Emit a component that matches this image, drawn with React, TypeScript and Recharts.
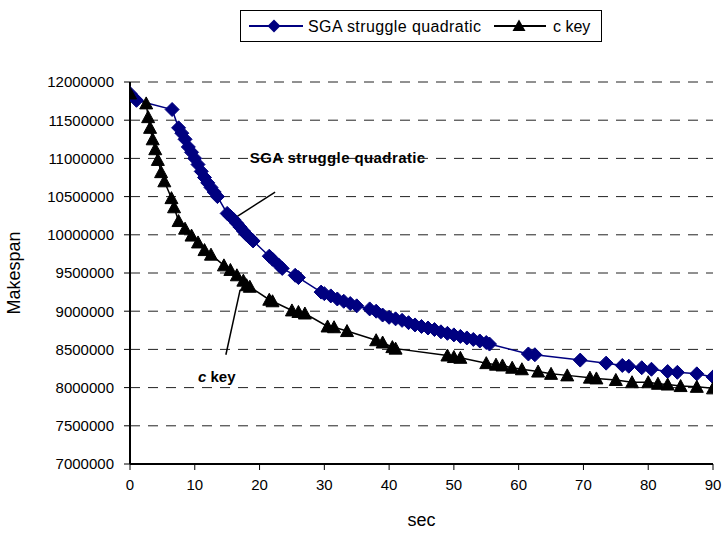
import React from "react";
import {
  LineChart,
  Line,
  XAxis,
  YAxis,
  CartesianGrid,
  ReferenceLine,
  ReferenceDot,
} from "recharts";

// SGA struggle quadratic
const sgaSec = [
  0, 1, 6.5, 7.5, 8, 8.5, 9, 9.5, 10, 10.5, 11, 11.5, 12, 12.5, 13, 13.5, 15,
  15.5, 16, 16.5, 17, 17.5, 18, 18.5, 19, 21.5, 22, 23, 23.5, 25.5, 26, 29.5,
  30, 31, 32, 33, 34, 35, 37, 38, 39, 40, 41, 42, 43, 44, 45, 46, 47, 48, 49,
  50, 51, 52, 53, 54, 55, 55.5, 61.5, 62.5, 69.5, 73.5, 76, 77, 79, 80.5, 83,
  84.5, 87.5, 90,
];
const sgaMakespan = [
  11850000, 11760000, 11640000, 11400000, 11330000, 11250000, 11150000,
  11080000, 11000000, 10920000, 10830000, 10750000, 10680000, 10620000,
  10560000, 10500000, 10280000, 10240000, 10200000, 10150000, 10100000,
  10050000, 10000000, 9960000, 9920000, 9720000, 9680000, 9600000, 9560000,
  9470000, 9440000, 9250000, 9230000, 9200000, 9160000, 9130000, 9100000,
  9070000, 9030000, 9000000, 8950000, 8920000, 8900000, 8880000, 8850000,
  8820000, 8800000, 8780000, 8760000, 8730000, 8710000, 8690000, 8670000,
  8650000, 8630000, 8610000, 8590000, 8570000, 8440000, 8430000, 8360000,
  8320000, 8290000, 8280000, 8260000, 8240000, 8210000, 8200000, 8180000,
  8140000,
];

// c key
const ckeySec = [
  0, 2.5, 2.8, 3.1, 3.5, 3.9, 4.3, 4.8, 5.3, 6.4, 6.8, 7.5, 8.5, 9.5, 10.5,
  11.5, 12.5, 14.5, 15.5, 16.5, 17.5, 18, 18.5, 21.5, 22, 25, 26, 27, 30.5,
  31.5, 33.5, 38, 39, 40.5, 41, 49, 50, 51, 55, 56.5, 57.5, 59, 60.5, 63, 65,
  67.5, 71, 72, 75, 77.5, 80, 81.5, 83, 85, 87.5, 90,
];
const ckeyMakespan = [
  11850000, 11720000, 11540000, 11400000, 11250000, 11120000, 10980000,
  10820000, 10700000, 10480000, 10360000, 10180000, 10080000, 9990000,
  9900000, 9800000, 9740000, 9600000, 9540000, 9470000, 9400000, 9340000,
  9320000, 9150000, 9130000, 9010000, 8990000, 8970000, 8800000, 8790000,
  8740000, 8620000, 8590000, 8530000, 8510000, 8420000, 8400000, 8390000,
  8320000, 8300000, 8290000, 8260000, 8240000, 8210000, 8180000, 8160000,
  8130000, 8120000, 8100000, 8070000, 8070000, 8050000, 8040000, 8020000,
  8010000, 7990000,
];

const xTicks = [0, 10, 20, 30, 40, 50, 60, 70, 80, 90];
const yTicks = [
  7000000, 7500000, 8000000, 8500000, 9000000, 9500000, 10000000, 10500000,
  11000000, 11500000, 12000000,
];

const sgaData = sgaSec.map((s, i) => ({ sec: s, makespan: sgaMakespan[i] }));
const ckeyData = ckeySec.map((s, i) => ({ sec: s, makespan: ckeyMakespan[i] }));

const NAVY = "#000080";
const FONT = "'Liberation Sans', Arial, sans-serif";

const Diamond = (props: any) => {
  const { cx, cy, index } = props;
  if (cx == null || cy == null) return <g key={index} />;
  const r = 7;
  return (
    <polygon
      key={"d" + index}
      points={`${cx},${cy - r} ${cx + r},${cy} ${cx},${cy + r} ${cx - r},${cy}`}
      fill={NAVY}
      stroke={NAVY}
    />
  );
};

const Triangle = (props: any) => {
  const { cx, cy, index } = props;
  if (cx == null || cy == null) return <g key={index} />;
  return (
    <polygon
      key={"t" + index}
      points={`${cx},${cy - 6.5} ${cx + 6.5},${cy + 5.5} ${cx - 6.5},${cy + 5.5}`}
      fill="#000"
      stroke="#000"
    />
  );
};

const LegendBox = () => (
  <div
    style={{
      position: "absolute",
      left: 240,
      top: 10,
      width: 362,
      height: 32,
      border: "1px solid #000",
      boxSizing: "border-box",
    }}
  >
    <svg width={362} height={32} style={{ position: "absolute", left: 0, top: 0 }}>
      <line x1={8} y1={15} x2={62} y2={15} stroke={NAVY} strokeWidth={2} />
      <polygon points="33,8.5 39.5,15 33,21.5 26.5,15" fill={NAVY} />
      <text x={67} y={21} fontSize={16} letterSpacing={0.4} fontFamily={FONT} fill="#000">
        SGA struggle quadratic
      </text>
      <line x1={253} y1={15} x2={305} y2={15} stroke="#000" strokeWidth={2} />
      <polygon points="278,8.5 284.5,20 271.5,20" fill="#000" />
      <text x={312} y={21} fontSize={16} fontFamily={FONT} fill="#000">
        c key
      </text>
    </svg>
  </div>
);

const App: React.FC = () => {
  return (
    <div style={{ position: "absolute", left: 0, top: 0, width: 723, height: 533, background: "#fff" }}>
      <LineChart
        width={723}
        height={533}
        margin={{ top: 82, right: 10, bottom: 3, left: 0 }}
        style={{ fontFamily: FONT }}
      >
        <CartesianGrid
          horizontal={true}
          vertical={false}
          stroke="#222"
          strokeDasharray="10 8"
          horizontalValues={yTicks}
        />
        <XAxis
          dataKey="sec"
          type="number"
          domain={[0, 90]}
          ticks={xTicks}
          allowDataOverflow
          height={66}
          tickSize={6}
          tickMargin={9}
          axisLine={{ stroke: "#000", strokeWidth: 2 }}
          tickLine={{ stroke: "#000" }}
          tick={{ fill: "#000", fontSize: 15, fontFamily: FONT }}
          label={{
            value: "sec",
            position: "insideBottom",
            offset: 4,
            style: { fill: "#000", fontSize: 18, fontFamily: FONT },
          }}
        />
        <XAxis
          xAxisId="top"
          orientation="top"
          dataKey="sec"
          type="number"
          domain={[0, 90]}
          height={0}
          tick={false}
          tickLine={false}
          axisLine={{ stroke: "#000", strokeWidth: 1 }}
        />
        <YAxis
          type="number"
          domain={[7000000, 12000000]}
          ticks={yTicks}
          allowDataOverflow
          width={130}
          tickSize={6}
          tickMargin={10}
          axisLine={{ stroke: "#000", strokeWidth: 2 }}
          tickLine={{ stroke: "#000" }}
          tick={{ fill: "#000", fontSize: 15, fontFamily: FONT }}
          label={{
            value: "Makespan",
            angle: -90,
            position: "insideLeft",
            offset: 14,
            style: { fill: "#000", fontSize: 18, fontFamily: FONT, textAnchor: "middle" },
          }}
        />
        <YAxis
          yAxisId="right"
          orientation="right"
          type="number"
          domain={[7000000, 12000000]}
          width={0}
          tick={false}
          tickLine={false}
          axisLine={{ stroke: "#000", strokeWidth: 2 }}
        />
        <Line
          data={sgaData}
          dataKey="makespan"
          name="SGA struggle quadratic"
          stroke={NAVY}
          strokeWidth={1.5}
          dot={Diamond}
          activeDot={false}
          isAnimationActive={false}
        />
        <Line
          data={ckeyData}
          dataKey="makespan"
          name="c key"
          stroke="#000"
          strokeWidth={1.5}
          dot={Triangle}
          activeDot={false}
          isAnimationActive={false}
        />
        <ReferenceLine
          segment={[
            { x: 22.4, y: 10560000 },
            { x: 16.2, y: 10220000 },
          ]}
          stroke="#000"
          strokeWidth={1.5}
          ifOverflow="visible"
        />
        <ReferenceLine
          segment={[
            { x: 17.0, y: 9280000 },
            { x: 14.8, y: 8430000 },
          ]}
          stroke="#000"
          strokeWidth={1.5}
          ifOverflow="visible"
        />
        <ReferenceDot
          x={18.5}
          y={11000000}
          r={0}
          ifOverflow="visible"
          label={(p: any) => (
            <text
              x={p.viewBox.cx ?? p.viewBox.x}
              y={(p.viewBox.cy ?? p.viewBox.y) + 5}
              fontSize={15}
              letterSpacing={0.4}
              fontWeight="bold"
              fontFamily={FONT}
              fill="#000"
            >
              SGA struggle quadratic
            </text>
          )}
        />
        <ReferenceDot
          x={10.5}
          y={8140000}
          r={0}
          ifOverflow="visible"
          label={(p: any) => (
            <text
              x={p.viewBox.cx ?? p.viewBox.x}
              y={(p.viewBox.cy ?? p.viewBox.y) + 5}
              fontSize={15}
              fontWeight="bold"
              fontFamily={FONT}
              fill="#000"
            >
              <tspan fontStyle="italic">c</tspan>
              {"  key"}
            </text>
          )}
        />
      </LineChart>
      <LegendBox />
    </div>
  );
};

export default App;
